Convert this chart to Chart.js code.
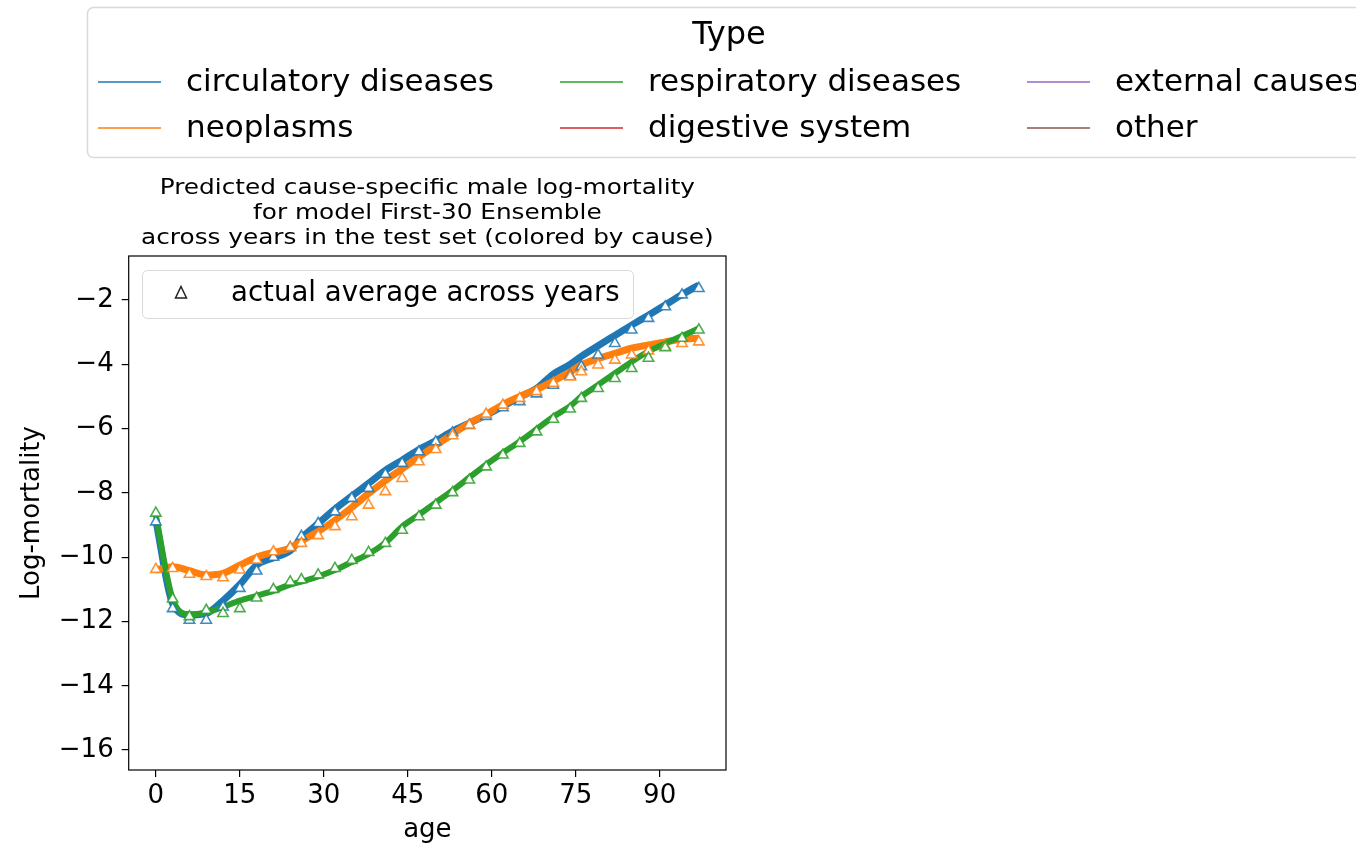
<!DOCTYPE html>
<html>
<head>
<meta charset="utf-8">
<script src="https://cdn.jsdelivr.net/npm/chart.js@4.4.0/dist/chart.umd.min.js"></script>
<style>
  html, body { margin: 0; padding: 0; background: #fff; }
  #wrap { position: relative; width: 1356px; height: 846px; }
</style>
</head>
<body>
<div id="wrap"><canvas id="chart"></canvas></div>
<script>
const ages = [0, 3, 6, 9, 12, 15, 18, 21, 24, 26, 29, 32, 35, 38, 41, 44, 47, 50, 53, 56,
  59, 62, 65, 68, 71, 74, 76, 79, 82, 85, 88, 91, 94, 97];

// predicted log-mortality (thick bands)
const circPred = [-8.85, -11.45, -11.8, -11.75, -11.35, -10.85, -10.25, -10.02, -9.8, -9.4,
  -8.95, -8.5, -8.1, -7.7, -7.3, -6.98, -6.65, -6.38, -6.08, -5.83,
  -5.58, -5.3, -5.02, -4.75, -4.3, -4.0, -3.75, -3.42, -3.1, -2.78,
  -2.47, -2.15, -1.83, -1.53];
const neoPred = [-10.4, -10.3, -10.42, -10.55, -10.5, -10.25, -10.0, -9.85, -9.72, -9.5,
  -9.2, -8.85, -8.45, -8.02, -7.62, -7.25, -6.88, -6.52, -6.17, -5.83,
  -5.56, -5.25, -5.0, -4.78, -4.52, -4.24, -4.02, -3.82, -3.66, -3.5,
  -3.4, -3.3, -3.22, -3.19];
const respPred = [-8.7, -11.3, -11.78, -11.72, -11.55, -11.35, -11.2, -11.05, -10.85, -10.76,
  -10.6, -10.4, -10.15, -9.9, -9.55, -9.05, -8.68, -8.3, -7.92, -7.52,
  -7.12, -6.75, -6.4, -6.02, -5.63, -5.3, -5.0, -4.64, -4.28, -3.92,
  -3.6, -3.35, -3.12, -2.88];

// actual average across years (triangles)
const circAct = [-8.9, -11.6, -11.96, -11.96, -11.55, -10.97, -10.43, -10.0, -9.7, -9.35,
  -8.95, -8.59, -8.17, -7.86, -7.42, -7.08, -6.72, -6.41, -6.13, -5.9,
  -5.62, -5.35, -5.16, -4.92, -4.65, -4.35, -4.07, -3.71, -3.35, -2.93,
  -2.57, -2.21, -1.84, -1.64];
const neoAct = [-10.38, -10.35, -10.53, -10.6, -10.64, -10.4, -10.09, -9.83, -9.7, -9.57,
  -9.33, -9.05, -8.74, -8.38, -7.96, -7.55, -7.03, -6.65, -6.22, -5.89,
  -5.55, -5.27, -5.06, -4.85, -4.59, -4.39, -4.23, -4.02, -3.87, -3.71,
  -3.58, -3.45, -3.35, -3.3];
const respAct = [-8.63, -11.3, -11.85, -11.65, -11.75, -11.6, -11.27, -11.0, -10.77, -10.7,
  -10.55, -10.35, -10.1, -9.85, -9.57, -9.16, -8.74, -8.38, -7.99, -7.6,
  -7.19, -6.82, -6.46, -6.1, -5.71, -5.39, -5.06, -4.75, -4.44, -4.13,
  -3.81, -3.48, -3.19, -2.93];

const causes = ["circulatory diseases", "neoplasms", "respiratory diseases",
  "digestive system", "external causes", "other"];
const causeColors = ["#1f77b4", "#ff7f0e", "#2ca02c", "#d62728", "#9467bd", "#8c564b"];

const xTicks = [0, 15, 30, 45, 60, 75, 90];
const yTicks = [-16, -14, -12, -10, -8, -6, -4, -2];

const titleLines = ["Predicted cause-specific male log-mortality",
  "for model First-30 Ensemble",
  "across years in the test set (colored by cause)"];

const FONT = "'DejaVu Sans', sans-serif";
Chart.defaults.font.family = FONT;
Chart.defaults.color = "#000";

function pts(ys) {
  return ys.map((y, i) => ({ x: ages[i], y: y }));
}
function alpha(hex, a) {
  const n = parseInt(hex.slice(1), 16);
  return "rgba(" + (n >> 16) + "," + ((n >> 8) & 255) + "," + (n & 255) + "," + a + ")";
}
function minus(v) {
  return v < 0 ? "\u2212" + Math.abs(v) : String(v);
}

const preds = [circPred, neoPred, respPred];
const acts = [circAct, neoAct, respAct];
const datasets = [];
preds.forEach((p, i) => {
  datasets.push({
    data: pts(p),
    showLine: true,
    borderColor: causeColors[i],
    borderWidth: i == 2 ? 6 : 7,
    pointRadius: 0,
    cubicInterpolationMode: "monotone",
    order: 6 - i
  });
});
acts.forEach((a, i) => {
  datasets.push({
    data: pts(a),
    showLine: false,
    pointStyle: "triangle",
    pointRadius: 6,
    pointBorderWidth: 1.6,
    pointBorderColor: alpha(causeColors[i], 0.85),
    pointBackgroundColor: "#fff",
    order: 3 - i
  });
});

// text drawn a little wider than the font, like the source picture
function wideText(ctx, text, x, y, sx) {
  ctx.save();
  ctx.translate(x, y);
  ctx.scale(sx, 1);
  ctx.fillText(text, 0, 0);
  ctx.restore();
}

// frame, titles and the two legends
const decor = {
  id: "decor",
  afterDraw(chart) {
    const ctx = chart.ctx;
    const a = chart.chartArea;
    ctx.save();
    ctx.strokeStyle = "#000";
    ctx.lineWidth = 1.2;
    ctx.strokeRect(a.left, a.top, a.right - a.left, a.bottom - a.top);

    // chart title
    const cx = (a.left + a.right) / 2;
    ctx.fillStyle = "#000";
    ctx.textAlign = "center";
    ctx.textBaseline = "middle";
    ctx.font = "22px " + FONT;
    titleLines.forEach((t, i) => wideText(ctx, t, cx, 188 + i * 25, 1.125));

    // inner legend
    ctx.beginPath();
    ctx.roundRect(142.5, 270.5, 491, 48, 5);
    ctx.fillStyle = "rgba(255,255,255,0.8)";
    ctx.fill();
    ctx.strokeStyle = "#d9d9d9";
    ctx.lineWidth = 1;
    ctx.stroke();
    ctx.beginPath();
    ctx.moveTo(181, 286.5);
    ctx.lineTo(186.5, 298);
    ctx.lineTo(175.5, 298);
    ctx.closePath();
    ctx.strokeStyle = "#222";
    ctx.lineWidth = 1.5;
    ctx.stroke();
    ctx.fillStyle = "#000";
    ctx.textAlign = "left";
    ctx.font = "27.6px " + FONT;
    ctx.fillText("actual average across years", 231, 294);

    // figure legend
    ctx.beginPath();
    ctx.roundRect(87.5, 7.5, 1300, 150, 6);
    ctx.fillStyle = "rgba(255,255,255,0.8)";
    ctx.fill();
    ctx.strokeStyle = "#d9d9d9";
    ctx.stroke();
    ctx.fillStyle = "#000";
    ctx.textAlign = "center";
    ctx.font = "32px " + FONT;
    ctx.fillText("Type", 729, 36);
    const colX = [98, 560, 1027];
    const rowY = [82, 128];
    ctx.textAlign = "left";
    ctx.font = "31px " + FONT;
    causes.forEach((c, i) => {
      const x = colX[Math.floor(i / 2)];
      const y = rowY[i % 2];
      ctx.beginPath();
      ctx.moveTo(x, y);
      ctx.lineTo(x + 63, y);
      ctx.strokeStyle = alpha(causeColors[i], 0.75);
      ctx.lineWidth = 2;
      ctx.stroke();
      ctx.fillStyle = "#000";
      ctx.fillText(c, x + 88, y + 1);
    });
    ctx.restore();
  }
};

new Chart(document.getElementById("chart"), {
  type: "scatter",
  data: { datasets: datasets },
  options: {
    responsive: true,
    maintainAspectRatio: false,
    animation: false,
    layout: { padding: { left: 0, top: 256, right: 630, bottom: 0 } },
    plugins: { legend: { display: false }, title: { display: false }, tooltip: { enabled: false } },
    scales: {
      x: {
        type: "linear",
        min: -4.85,
        max: 101.85,
        afterBuildTicks: s => { s.ticks = xTicks.map(v => ({ value: v })); },
        afterFit: s => { s.height = 76; },
        ticks: { font: { size: 26 }, color: "#000", padding: 4, callback: v => minus(v), maxRotation: 0 },
        grid: { display: true, drawOnChartArea: false, drawTicks: true, tickLength: 7, color: "#000", lineWidth: 1.2 },
        border: { display: false },
        title: { display: true, text: "age", font: { size: 26 }, color: "#000", padding: { top: 0, bottom: 0 } }
      },
      y: {
        min: -16.62,
        max: -0.63,
        afterBuildTicks: s => { s.ticks = yTicks.map(v => ({ value: v })); },
        afterFit: s => { s.width = 128.7; },
        ticks: { font: { size: 26 }, color: "#000", padding: 8, callback: v => minus(v) },
        grid: { display: true, drawOnChartArea: false, drawTicks: true, tickLength: 7, color: "#000", lineWidth: 1.2 },
        border: { display: false },
        title: { display: true, text: "Log-mortality", font: { size: 26 }, color: "#000", padding: { top: 17, bottom: 0 } }
      }
    }
  },
  plugins: [decor]
});
</script>
</body>
</html>
